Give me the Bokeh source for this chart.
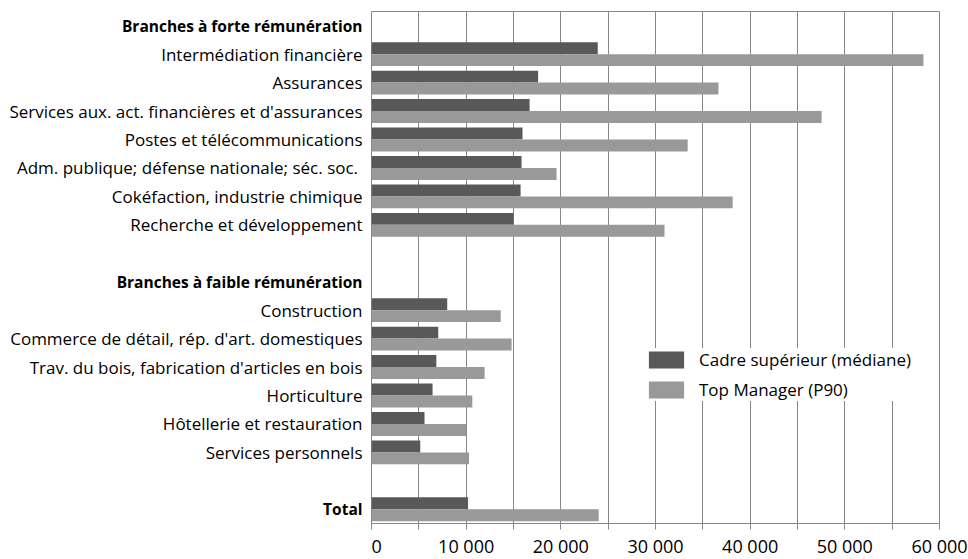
from bokeh.plotting import figure
from bokeh.models import (ColumnDataSource, Range1d, FixedTicker,
                          Legend, LegendItem)
from bokeh.layouts import row
from bokeh.embed import file_html
from bokeh.resources import INLINE

rows = ["Branches à forte rémunération",
        "Intermédiation financière",
        "Assurances",
        "Services aux. act. financières et d'assurances",
        "Postes et télécommunications",
        "Adm. publique; défense nationale;  séc. soc.",
        "Cokéfaction, industrie chimique",
        "Recherche et développement",
        "",
        "Branches à faible rémunération",
        "Construction",
        "Commerce de détail, rép. d'art. domestiques",
        "Trav. du bois, fabrication d'articles en bois",
        "Horticulture",
        "Hôtellerie et restauration",
        "Services personnels",
        "",
        "Total"]
bold_rows = ["Branches à forte rémunération", "Branches à faible rémunération", "Total"]

cadre = [None, 23900, 17600, 16700, 15950, 15850, 15750, 15000, None,
         None, 8000, 7050, 6850, 6450, 5600, 5150, None, 10200]
top = [None, 58300, 36650, 47550, 33400, 19550, 38150, 30950, None,
       None, 13650, 14800, 11950, 10650, 10000, 10300, None, 24000]

series_names = ["Cadre supérieur (médiane)", "Top Manager (P90)"]
colors = ["#595959", "#999999"]
x_ticks = list(range(0, 60001, 5000))

FONT = "Open Sans"
GRAY = "#878787"
LEFT_W = 371
TOP_B = 11
FRAME_H = 512
BOTTOM_B = 36

n = len(rows)
y_range = Range1d(n, 0)

# ---- label column (left) ----
lab = figure(output_backend="svg", toolbar_location=None,
             frame_width=LEFT_W, frame_height=FRAME_H,
             min_border_left=0, min_border_right=0,
             min_border_top=TOP_B, min_border_bottom=BOTTOM_B,
             x_range=Range1d(0, LEFT_W), y_range=y_range)
lab.axis.visible = False
lab.grid.visible = False
lab.outline_line_color = None
lab.border_fill_color = "white"
lab.background_fill_color = "white"

lab_src = ColumnDataSource(dict(
    x=[LEFT_W] * n,
    y=[i + 0.5 for i in range(n)],
    text=rows,
    style=["bold" if r in bold_rows else "normal" for r in rows],
    size=["15.5px" if r in bold_rows else "17px" for r in rows]))
lab.text(x="x", y="y", text="text", source=lab_src, x_offset=-9,
         text_align="right", text_baseline="middle",
         text_font={"value": FONT}, text_font_size="size",
         text_font_style="style", text_color="black")

# ---- main chart ----
p = figure(output_backend="svg", toolbar_location=None,
           frame_width=568, frame_height=FRAME_H,
           min_border_left=0, min_border_top=TOP_B, min_border_right=29,
           min_border_bottom=BOTTOM_B,
           x_range=Range1d(0, 60000), y_range=y_range)

bar_h = 0.42
src_c = ColumnDataSource(dict(
    y=[i + 0.5 - bar_h / 2 for i, v in enumerate(cadre) if v is not None],
    v=[v for v in cadre if v is not None]))
src_t = ColumnDataSource(dict(
    y=[i + 0.5 + bar_h / 2 for i, v in enumerate(top) if v is not None],
    v=[v for v in top if v is not None]))

r1 = p.hbar(y="y", left=0, right="v", height=bar_h, source=src_c,
            fill_color=colors[0], line_color=None)
r2 = p.hbar(y="y", left=0, right="v", height=bar_h, source=src_t,
            fill_color=colors[1], line_color=None)

p.xaxis.ticker = FixedTicker(ticks=x_ticks)
p.xaxis.major_label_overrides = {
    t: (f"{t:,}".replace(",", " ") if t % 10000 == 0 else "") for t in x_ticks}
p.xaxis.major_tick_out = 6
p.xaxis.major_tick_in = 0
p.xaxis.minor_tick_line_color = None
p.xaxis.axis_line_color = GRAY
p.xaxis.major_tick_line_color = GRAY
p.xaxis.major_label_text_font = FONT
p.xaxis.major_label_text_font_size = "18px"
p.xaxis.major_label_text_color = "black"
p.xaxis.major_label_standoff = 4

p.yaxis.visible = False

p.xgrid.ticker = FixedTicker(ticks=x_ticks)
p.xgrid.grid_line_color = GRAY
p.ygrid.visible = False
p.outline_line_color = GRAY
p.background_fill_color = "white"
p.border_fill_color = "white"

legend = Legend(items=[LegendItem(label=series_names[0], renderers=[r1]),
                       LegendItem(label=series_names[1], renderers=[r2])],
                location=(273, 122), glyph_width=44, glyph_height=21,
                spacing=7, padding=15, margin=0, label_standoff=11,
                label_text_font=FONT, label_text_font_size="17px",
                label_text_color="black", border_line_color=None,
                background_fill_color="white", background_fill_alpha=1.0)
p.add_layout(legend)

layout = row(lab, p)
open("out.html", "w").write(file_html(layout, INLINE))
